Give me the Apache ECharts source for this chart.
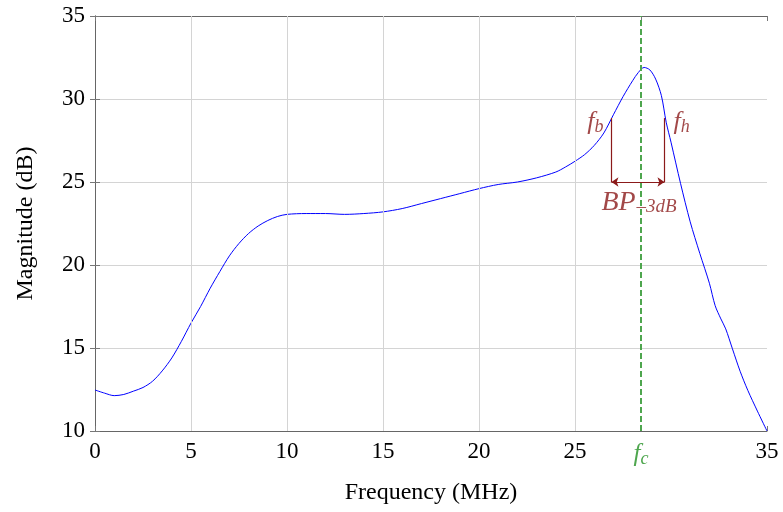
<!DOCTYPE html>
<html>
<head>
<meta charset="utf-8">
<script src="https://cdn.jsdelivr.net/npm/echarts@6/dist/echarts.min.js"></script>
<style>html,body{margin:0;padding:0;background:#fff}#c{width:783px;height:512px}</style>
</head>
<body>
<div id="c"></div>
<script>
// ---- data ----
var freq = [0, 0.5, 1, 1.5, 2, 2.5, 3, 3.5, 4, 4.5, 5, 5.5, 6, 6.5, 7, 7.5, 8, 8.5, 9, 9.5, 10, 11, 12, 13, 14, 15, 16, 17, 18, 19, 20, 21, 22, 23, 24, 24.5, 25, 25.5, 26, 26.5, 27, 27.5, 28, 28.3, 28.6, 28.9, 29.2, 29.5, 29.75, 30, 30.5, 31, 31.5, 32, 32.3, 32.6, 32.85, 33.2, 33.6, 34, 34.5, 35];
var magnitude = [12.47, 12.28, 12.13, 12.2, 12.4, 12.62, 13.0, 13.62, 14.4, 15.4, 16.5, 17.5, 18.6, 19.6, 20.55, 21.3, 21.9, 22.35, 22.68, 22.92, 23.05, 23.1, 23.1, 23.05, 23.1, 23.2, 23.4, 23.7, 24.0, 24.3, 24.6, 24.85, 25.0, 25.25, 25.6, 25.9, 26.25, 26.65, 27.2, 27.95, 29.05, 30.14, 31.1, 31.6, 31.9, 31.75, 31.2, 30.2, 28.6, 27.4, 24.9, 22.6, 20.7, 18.9, 17.55, 16.75, 16.15, 14.95, 13.6, 12.45, 11.2, 10.0];
var xTickValues = [0, 5, 10, 15, 20, 25, 28.44, 35];
var xTickLabels = ['0', '5', '10', '15', '20', '25', 'fc', '35'];
var xGridValues = [5, 10, 15, 20, 25];
var fc = 28.44;          // centre frequency
var fb = 26.9;           // lower -3 dB frequency
var fh = 29.66;          // upper -3 dB frequency
var levelTop = 28.85;    // -3 dB level
var arrowLevel = 25;     // bandwidth arrow level
var yMin = 10, yMax = 35, yStep = 5;
var xMin = 0, xMax = 35;

var serif = 'Liberation Serif';
var darkRed = '#8b1a1a';
var green = '#4ea64e';

var chart = echarts.init(document.getElementById('c'), null, {renderer: 'canvas'});
var axisLineStyle = {color: '#666', width: 1};
var tickStyle = {show: true, inside: true, length: 5, lineStyle: {color: '#777'}, customValues: xTickValues};

chart.setOption({
  animation: false,
  grid: {left: 95, right: 16, top: 16, bottom: 81, containLabel: false},
  xAxis: [{
    type: 'value', min: xMin, max: xMax, position: 'bottom',
    name: 'Frequency (MHz)', nameLocation: 'middle', nameGap: 50,
    nameTextStyle: {fontFamily: serif, fontSize: 24, color: '#000'},
    axisLine: {show: true, lineStyle: axisLineStyle},
    axisTick: tickStyle,
    splitLine: {show: false},
    axisLabel: {
      customValues: xTickValues, margin: 9,
      fontFamily: serif, fontSize: 23, color: '#000',
      formatter: function (v) {
        var i = xTickValues.indexOf(v);
        var t = i >= 0 ? xTickLabels[i] : '';
        if (t === 'fc') return '{f|f}{s|c}';
        return t;
      },
      rich: {
        f: {fontFamily: serif, fontStyle: 'italic', fontSize: 25, color: green},
        s: {fontFamily: serif, fontStyle: 'italic', fontSize: 18, color: green, padding: [10, 0, 0, 0]}
      }
    }
  }, {
    type: 'value', min: xMin, max: xMax, position: 'top',
    axisLine: {show: true, lineStyle: axisLineStyle},
    axisTick: tickStyle,
    axisLabel: {show: false}, splitLine: {show: false}
  }],
  yAxis: [{
    type: 'value', min: yMin, max: yMax, interval: yStep, position: 'left',
    name: 'Magnitude (dB)', nameLocation: 'middle', nameGap: 57,
    nameTextStyle: {fontFamily: serif, fontSize: 24, color: '#000'},
    axisLine: {show: true, lineStyle: axisLineStyle},
    axisTick: {show: true, inside: true, length: 5, lineStyle: {color: '#777'}},
    splitLine: {show: true, lineStyle: {color: '#d4d4d4', width: 1}},
    axisLabel: {fontFamily: serif, fontSize: 23, color: '#000', margin: 10}
  }, {
    type: 'value', min: yMin, max: yMax, interval: yStep, position: 'right',
    axisLine: {show: true, lineStyle: axisLineStyle},
    axisTick: {show: true, inside: true, length: 5, lineStyle: {color: '#777'}},
    splitLine: {show: false}, axisLabel: {show: false}
  }],
  series: [
    {
      // vertical grid lines
      type: 'line', data: [], z: 1, silent: true,
      markLine: {
        silent: true, symbol: ['none', 'none'], label: {show: false},
        lineStyle: {color: '#d4d4d4', width: 1, type: 'solid'},
        data: xGridValues.map(function (v) { return {xAxis: v}; })
      }
    },
    {
      type: 'line', z: 3, smooth: 0.3, showSymbol: false, symbol: 'none',
      lineStyle: {color: '#0000ff', width: 1},
      data: freq.map(function (f, i) { return [f, magnitude[i]]; })
    },
    {
      // f_c marker line
      type: 'line', data: [], z: 4, silent: true,
      markLine: {
        silent: true, symbol: ['none', 'none'], label: {show: false},
        lineStyle: {color: green, width: 2, type: [6, 3]},
        data: [{xAxis: fc}]
      }
    },
    {
      // -3dB annotation lines
      type: 'line', data: [], z: 5, silent: true,
      markLine: {
        silent: true, label: {show: false},
        lineStyle: {color: darkRed, width: 1.2, type: 'solid'},
        data: [
          [{coord: [fb, levelTop], symbol: 'none'}, {coord: [fb, arrowLevel], symbol: 'none'}],
          [{coord: [fh, levelTop], symbol: 'none'}, {coord: [fh, arrowLevel], symbol: 'none'}],
          [{coord: [fb, arrowLevel], symbol: 'arrow', symbolSize: [7, 7]}, {coord: [fh, arrowLevel], symbol: 'arrow', symbolSize: [7, 7]}]
        ]
      }
    },
    {
      // annotation labels
      type: 'scatter', z: 6, symbolSize: 0, silent: true,
      data: [
        {value: [fb, levelTop], label: {show: true, position: 'left', distance: 8, offset: [0, 4],
          formatter: '{f|f}{s|b}'}},
        {value: [fh, levelTop], label: {show: true, position: 'right', distance: 9, offset: [0, 4],
          formatter: '{f|f}{s|h}'}},
        {value: [fc, arrowLevel], label: {show: true, position: 'bottom', distance: 7, offset: [-2, 0],
          formatter: '{b|BP}{s2|–3dB}'}}
      ],
      label: {
        color: darkRed,
        rich: {
          f: {fontFamily: serif, fontStyle: 'italic', fontSize: 26, color: darkRed},
          s: {fontFamily: serif, fontStyle: 'italic', fontSize: 18, color: darkRed, padding: [10, 0, 0, 0]},
          b: {fontFamily: serif, fontStyle: 'italic', fontSize: 28, color: darkRed},
          s2: {fontFamily: serif, fontStyle: 'italic', fontSize: 19, color: darkRed, padding: [8, 0, 0, 1]}
        }
      }
    }
  ]
});
</script>
</body>
</html>
